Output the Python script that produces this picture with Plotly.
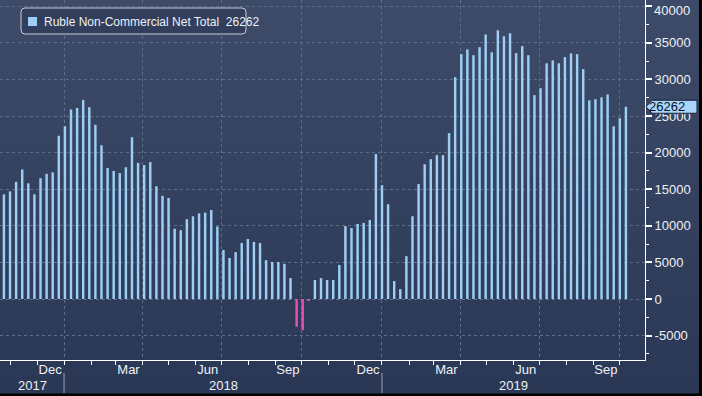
import pandas as pd
import plotly.graph_objects as go

# ---------------- data ----------------
series_name = "Ruble Non-Commercial Net Total"
first_week = "2017-10-24"   # weekly observations (Tuesdays)
net_values = [
    14300, 14700, 16000, 17700, 15800, 14300, 16500, 17100, 17300, 22300,
    23600, 25900, 26100, 27200, 26200, 23800, 21000, 17900, 17500, 17200,
    18000, 22100, 18600, 18300, 18700, 15400, 14100, 13800, 9600, 9400,
    10900, 11300, 11700, 11800, 12150, 9900, 6700, 5600, 6400, 7650,
    8200, 7800, 7650, 5300, 5050, 5050, 4800, 2850, -3800, -4250,
    -150, 2600, 2850, 2600, 2600, 4650, 9950, 9700, 10250, 10400,
    10800, 19800, 15550, 12950, 2450, 1350, 5850, 11300, 15700, 18400,
    19100, 19650, 19650, 22650, 30300, 33450, 34100, 33300, 34400, 36150,
    33700, 36700, 35900, 36300, 33600, 34550, 33300, 27850, 28800, 32200,
    32600, 32200, 33050, 33550, 33450, 31400, 27150, 27300, 27550, 27950,
    23600, 24700, 26262,
]
week_dates = pd.date_range(first_week, periods=len(net_values), freq="7D")

x_range = ["2017-10-19 12:00", "2019-10-29 22:00"]
y_range = [-8333, 40847]
y_tick_values = [-5000, 0, 5000, 10000, 15000, 20000, 25000, 30000, 35000, 40000]
y_tick_labels = [str(v) for v in y_tick_values]
quarter_ticks = ["2018-01-01", "2018-04-01", "2018-07-01", "2018-10-01",
                 "2019-01-01", "2019-04-01", "2019-07-01", "2019-10-01"]
month_ticks = [d.strftime("%Y-%m-%d") for d in pd.date_range("2017-11-01", "2019-10-01", freq="MS")]
month_label_dates = ["2017-12-16", "2018-03-16", "2018-06-15", "2018-09-15",
                     "2018-12-16", "2019-03-16", "2019-06-15", "2019-09-15"]
month_labels = ["Dec", "Mar", "Jun", "Sep", "Dec", "Mar", "Jun", "Sep"]
year_labels = ["2017", "2018", "2019"]
year_starts = ["2018-01-01", "2019-01-01"]

# ---------------- style ----------------
FONT = "Liberation Sans"
POS_COLOR = "#9dcff6"
NEG_COLOR = "#e451b3"
TXT = "#eef1f6"
GRID = "#5d6d8a"
W, H = 702, 396
ML, MR, MT, MB = 0, 57, 0, 36
PW, PH = W - ML - MR, H - MT - MB

bar_colors = [POS_COLOR if v >= 0 else NEG_COLOR for v in net_values]
last_val = net_values[-1]

fig = go.Figure()
fig.add_trace(go.Bar(
    x=week_dates, y=net_values, marker=dict(color=bar_colors, line=dict(width=0)),
    name=f"{series_name}  {last_val}", showlegend=False,
))
# helper trace so the label axis is drawn
fig.add_trace(go.Scatter(x=week_dates, y=net_values, xaxis="x2", mode="markers",
                         marker=dict(opacity=0), showlegend=False, hoverinfo="skip"))


def xp(px):
    return px / PW


def yp(py):
    return 1 - py / PH


shapes = []
# background gradient
top_c = (61, 75, 104)
bot_c = (42, 56, 86)
n = 40
y_bottom = -MB / PH
for i in range(n):
    t = i / (n - 1)
    c = tuple(round(bot_c[k] + (top_c[k] - bot_c[k]) * t) for k in range(3))
    y0 = y_bottom + (1 - y_bottom) * i / n
    y1 = y_bottom + (1 - y_bottom) * (i + 1) / n
    shapes.append(dict(type="rect", xref="paper", yref="paper", x0=-0.01, x1=W / PW + 0.01,
                       y0=y0, y1=y1 + 0.002, fillcolor=f"rgb{c}", line=dict(width=0), layer="below"))
# black frame at right and bottom
shapes.append(dict(type="rect", xref="paper", yref="paper", x0=xp(699), x1=W / PW + 0.01,
                   y0=y_bottom - 0.01, y1=1.01, fillcolor="#000000", line=dict(width=0), layer="above"))
shapes.append(dict(type="rect", xref="paper", yref="paper", x0=-0.01, x1=W / PW + 0.01,
                   y0=y_bottom - 0.01, y1=yp(393.5), fillcolor="#000000", line=dict(width=0), layer="above"))
# year separators
for ys in year_starts:
    shapes.append(dict(type="line", xref="x", yref="paper", x0=ys, x1=ys,
                       y0=yp(373), y1=yp(393), line=dict(color="#9aa3b5", width=1)))
# legend box (rounded) and swatch
lx0, lx1, ly0, ly1, r = 21, 246, 8, 34, 4
shapes.append(dict(type="path", xref="paper", yref="paper", layer="above",
                   path=(f"M {xp(lx0 + r)},{yp(ly0)} L {xp(lx1 - r)},{yp(ly0)} "
                         f"Q {xp(lx1)},{yp(ly0)} {xp(lx1)},{yp(ly0 + r)} L {xp(lx1)},{yp(ly1 - r)} "
                         f"Q {xp(lx1)},{yp(ly1)} {xp(lx1 - r)},{yp(ly1)} L {xp(lx0 + r)},{yp(ly1)} "
                         f"Q {xp(lx0)},{yp(ly1)} {xp(lx0)},{yp(ly1 - r)} L {xp(lx0)},{yp(ly0 + r)} "
                         f"Q {xp(lx0)},{yp(ly0)} {xp(lx0 + r)},{yp(ly0)} Z"),
                   fillcolor="rgb(50,63,92)", line=dict(color="#c6ccd6", width=1)))
shapes.append(dict(type="rect", xref="paper", yref="paper", layer="above",
                   x0=xp(28), x1=xp(37), y0=yp(26), y1=yp(17),
                   fillcolor=POS_COLOR, line=dict(width=0)))
# last value tag
px_val = (y_range[1] - y_range[0]) / PH
hh = 6.5 * px_val
shapes.append(dict(type="path", xref="paper", yref="y", layer="above",
                   path=(f"M {xp(646)},{last_val} L {xp(652)},{last_val + hh} L {xp(697)},{last_val + hh} "
                         f"L {xp(697)},{last_val - hh} L {xp(652)},{last_val - hh} Z"),
                   fillcolor="#a8d6fb", line=dict(color="#1a2234", width=1)))

annotations = [
    dict(xref="paper", yref="y", x=xp(667), y=last_val, text=str(last_val), showarrow=False,
         font=dict(family=FONT, size=13, color="#0b1020"), xanchor="center", yanchor="middle"),
    dict(xref="paper", yref="paper", x=xp(42), y=yp(21.5), text=f"{series_name}  {last_val}",
         showarrow=False, font=dict(family=FONT, size=12, color=TXT), xanchor="left", yanchor="middle"),
]
# the top tick label is nudged down so that it stays inside the picture
top_label_value = y_tick_values[-1]
y_tick_text = y_tick_labels[:-1] + [""]
annotations.append(dict(xref="paper", yref="y", x=xp(652), y=top_label_value, yshift=-4,
                        text=y_tick_labels[-1], showarrow=False, xanchor="left", yanchor="middle",
                        font=dict(family=FONT, size=13, color=TXT)))
# year labels centred on visible span of each year
x_lo, x_hi = pd.Timestamp(x_range[0]), pd.Timestamp(x_range[1])
for yl in year_labels:
    a = max(x_lo, pd.Timestamp(f"{yl}-01-01"))
    b = min(x_hi, pd.Timestamp(f"{int(yl) + 1}-01-01"))
    mid = a + (b - a) / 2
    annotations.append(dict(xref="x", yref="paper", x=mid, y=yp(385), text=yl, showarrow=False,
                            font=dict(family=FONT, size=13, color=TXT), xanchor="center", yanchor="middle"))

fig.update_layout(
    width=W, height=H, autosize=False,
    margin=dict(l=ML, r=MR, t=MT, b=MB, pad=0),
    paper_bgcolor="rgb(50,64,94)", plot_bgcolor="rgba(0,0,0,0)",
    font=dict(family=FONT, size=12, color=TXT),
    bargap=0.6, showlegend=False, hovermode=False,
    shapes=shapes, annotations=annotations,
    xaxis=dict(type="date", range=x_range, tickmode="array", tickvals=quarter_ticks,
               showticklabels=False, ticks="outside", ticklen=4, tickcolor="#ffffff", tickwidth=1,
               showgrid=True, gridcolor=GRID, griddash="dot", gridwidth=1,
               showline=True, linecolor="#ffffff", linewidth=1, zeroline=False,
               minor=dict(tickmode="array", tickvals=month_ticks, ticks="outside", ticklen=4,
                          tickcolor="#ffffff", tickwidth=1, showgrid=False)),
    xaxis2=dict(type="date", overlaying="x", matches="x", anchor="y", side="bottom",
                tickmode="array", tickvals=month_label_dates, ticktext=month_labels,
                ticks="", showgrid=False, showline=False, zeroline=False,
                tickfont=dict(family=FONT, size=13, color=TXT)),
    yaxis=dict(side="right", range=y_range, tickmode="array", tickvals=y_tick_values,
               ticktext=y_tick_text, ticklabeloverflow="allow",
               ticks="outside", ticklen=6, tickwidth=2, tickcolor="#ffffff",
               tickfont=dict(family=FONT, size=13, color=TXT),
               showgrid=True, gridcolor=GRID, griddash="dot", gridwidth=1,
               showline=True, linecolor="#ffffff", linewidth=1, zeroline=False,
               minor=dict(dtick=2500, tick0=0, ticks="outside", ticklen=3, tickcolor="#ffffff",
                          tickwidth=1, showgrid=False)),
)

fig.write_html("out.html", config={"displayModeBar": False},
               post_script="document.body.style.margin='0';document.body.style.overflow='hidden';")
